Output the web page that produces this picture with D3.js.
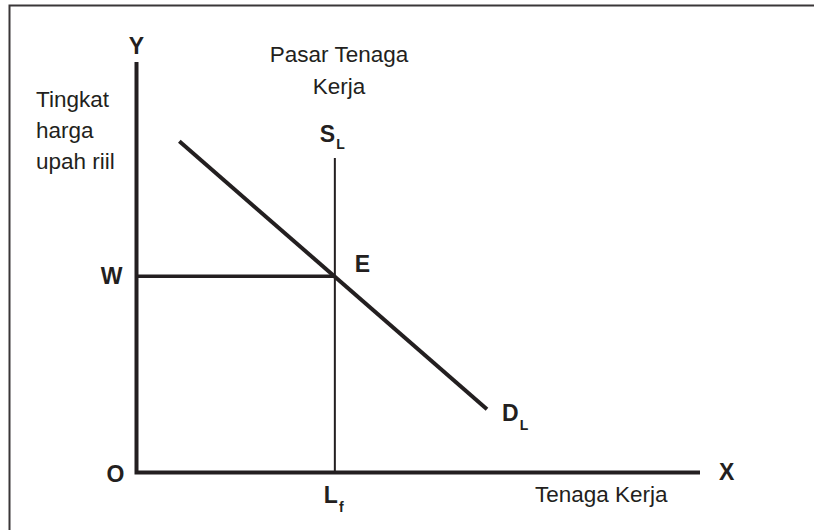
<!DOCTYPE html>
<html lang="id">
    <head>
        <meta charset="utf-8">
        <title>Pasar Tenaga Kerja</title>
        <script type="text/javascript" src="https://d3js.org/d3.v7.min.js"></script>
        <style type="text/css">
            body{
                margin: 0;
                background: #ffffff;
            }
            text{
                font-family: 'Liberation Sans', Arial, Helvetica, sans-serif;
                fill: #231f20;
            }
            .lbl{
                font-size: 22.5px;
            }
            .pt{
                font-size: 23px;
                font-weight: bold;
            }
            .sub{
                font-size: 14px;
                font-weight: bold;
            }
        </style>
    </head>

    <body>
        <script type="text/javascript">
            // chart size
            const svgW = 814;
            const svgH = 530;

            // model values (units 0-100)
            const demandX = [7.6, 62.2];
            const demandY = [80.7, 15.4];
            const supplyX = [35.2, 35.2];
            const supplyY = [0, 76.6];
            const wage = 47.8;
            const laborFull = 35.2;
            const axisMax = 100;

            // text labels
            const yTitleLines = ["Tingkat", "harga", "upah riil"];
            const chartTitleLines = ["Pasar Tenaga", "Kerja"];
            const xTitle = "Tenaga Kerja";

            // scales
            const scaleX = d3.scaleLinear().domain([0, axisMax]).range([136.5, 700]);
            const scaleY = d3.scaleLinear().domain([0, axisMax]).range([472.5, 62]);

            const svg = d3.select("body")
                        .append("svg")
                        .attr("width", svgW)
                        .attr("height", svgH);

            // frame (only top and left edges show)
            svg.append("path")
                .attr("d", "M9.5," + svgH + "V5.5H" + svgW)
                .attr("fill", "none")
                .attr("stroke", "#3a3738")
                .attr("stroke-width", 2);

            const line = d3.line()
                        .x(d => scaleX(d[0]))
                        .y(d => scaleY(d[1]));

            // axes
            svg.append("path")
                .attr("d", line([[0, axisMax], [0, 0], [axisMax, 0]]))
                .attr("fill", "none")
                .attr("stroke", "#231f20")
                .attr("stroke-width", 4);

            // wage line
            svg.append("path")
                .attr("d", line([[0, wage], [laborFull, wage]]))
                .attr("stroke", "#231f20")
                .attr("stroke-width", 3.5);

            // supply
            svg.append("path")
                .attr("d", line(d3.zip(supplyX, supplyY)))
                .attr("stroke", "#231f20")
                .attr("stroke-width", 2);

            // demand
            svg.append("path")
                .attr("d", line(d3.zip(demandX, demandY)))
                .attr("stroke", "#231f20")
                .attr("stroke-width", 4);

            // axis letters
            svg.append("text").attr("class", "pt")
                .attr("x", scaleX(0)).attr("y", 54)
                .attr("text-anchor", "middle").text("Y");
            svg.append("text").attr("class", "pt")
                .attr("x", 719).attr("y", scaleY(0) + 7)
                .text("X");
            svg.append("text").attr("class", "pt")
                .attr("x", scaleX(0) - 12).attr("y", scaleY(0) + 9)
                .attr("text-anchor", "end").text("O");
            svg.append("text").attr("class", "pt")
                .attr("x", scaleX(0) - 14).attr("y", scaleY(wage) + 8)
                .attr("text-anchor", "end").text("W");
            svg.append("text").attr("class", "pt")
                .attr("x", scaleX(laborFull) + 20).attr("y", scaleY(wage) - 4)
                .text("E");

            // labels with subscripts
            const subLabel = (x, y, main, sub, dy) => {
                const t = svg.append("text").attr("class", "pt").attr("x", x).attr("y", y);
                t.append("tspan").text(main);
                t.append("tspan").attr("class", "sub").attr("dx", 1).attr("dy", dy).text(sub);
            };
            subLabel(scaleX(laborFull) - 15, 142, "S", "L", 7);
            subLabel(502, 421, "D", "L", 9);
            subLabel(scaleX(laborFull) - 11, 503, "L", "f", 9);

            // titles
            svg.append("text").attr("class", "lbl")
                .selectAll("tspan").data(yTitleLines).join("tspan")
                .attr("x", 36).attr("y", (d, i) => 107 + i * 31)
                .text(d => d);
            svg.append("text").attr("class", "lbl")
                .attr("text-anchor", "middle")
                .selectAll("tspan").data(chartTitleLines).join("tspan")
                .attr("x", 339).attr("y", (d, i) => 62 + i * 31.5)
                .text(d => d);
            svg.append("text").attr("class", "lbl")
                .attr("x", 535).attr("y", 502)
                .text(xTitle);
        </script>
    </body>
</html>
